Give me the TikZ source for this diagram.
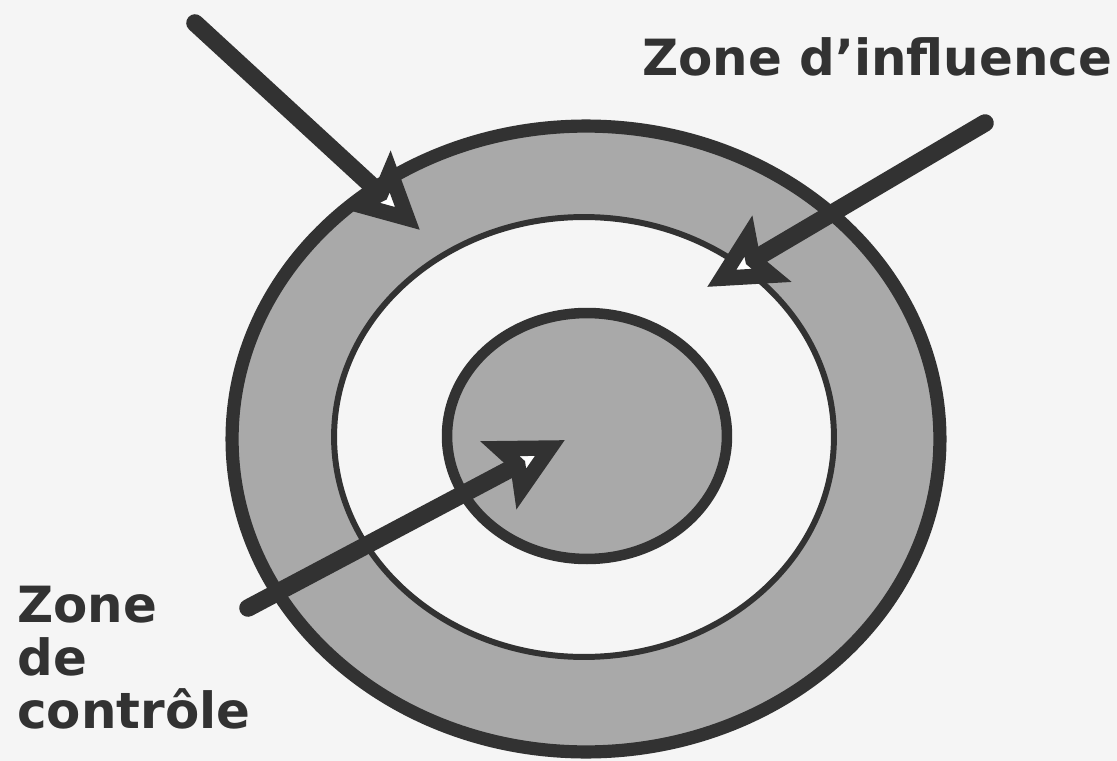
\documentclass[tikz,border=0pt]{standalone}
\usepackage{fontspec}
\setmainfont{DejaVu Sans}
\usetikzlibrary{arrows.meta,shapes.geometric}
\definecolor{Ink}{HTML}{323232}
\definecolor{Ring}{HTML}{A9A9A9}
\definecolor{Paper}{HTML}{F5F5F5}
\tikzset{
 zone/.style={ellipse,draw=Ink,inner sep=0pt},
 lbl/.style={font=\bfseries\fontsize{28.4}{30}\selectfont,text=Ink,inner sep=0pt},
 arr/.style={draw=Ink,line width=10pt,line cap=round,
  -{Stealth[open,fill=white,length=42pt,width=42pt,inset=7pt,line width=9pt]}}
}
\begin{document}
\begin{tikzpicture}[x=0.02cm,y=-0.02cm]
\fill[Paper] (0,0) rectangle (1117,761);
\useasboundingbox (0,0) rectangle (1117,761);
% the three zones
\node[zone,fill=Ring,line width=7.5pt,minimum width=14.16cm,minimum height=12.52cm] (outer) at (586,439) {};
\node[zone,fill=Paper,line width=3.4pt,minimum width=10cm,minimum height=8.8cm] (middle) at (584,437) {};
\node[zone,fill=Ring,line width=6pt,minimum width=5.6cm,minimum height=4.92cm] (inner) at (587,436) {};
% labels
\node[lbl,anchor=base west] (infl) at (642,75) {Zone d’influence};
\node[lbl,anchor=base west,align=left] (ctrl) at (17,728) {Zone\\de\\contrôle};
% arrows
\coordinate (a1s) at (195,23);
\coordinate (a1e) at (420,230);
\coordinate (a2s) at (985,123);
\coordinate (a2e) at (707,287);
\coordinate (a3s) at (248,608);
\coordinate (a3e) at (565,440);
\draw[arr] (a1s) -- (a1e);
\draw[arr] (a2s) -- (a2e);
\draw[arr] (a3s) -- (a3e);
\end{tikzpicture}
\end{document}
